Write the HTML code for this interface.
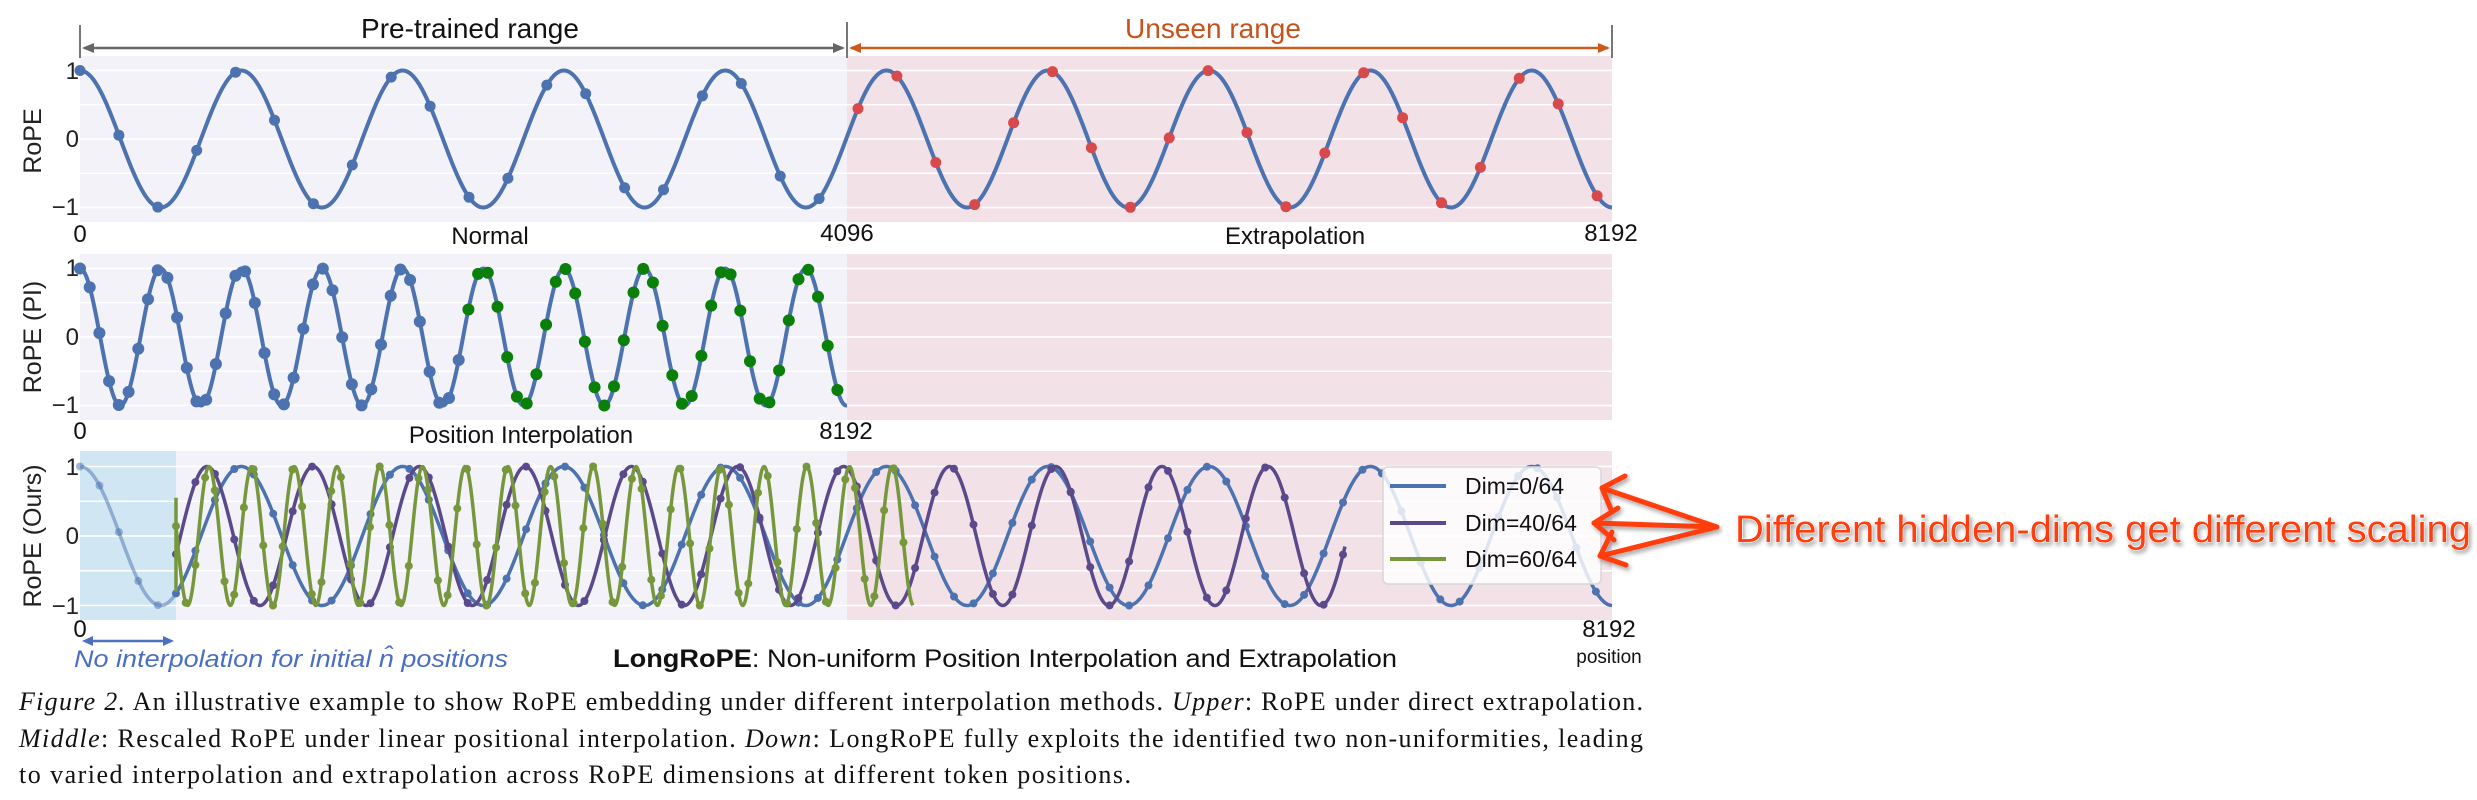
<!DOCTYPE html>
<html><head><meta charset="utf-8"><style>
html,body{margin:0;padding:0;background:#fff;}
svg{display:block;}
</style></head><body>
<svg id="s" xmlns="http://www.w3.org/2000/svg" width="2477" height="800" viewBox="0 0 2477 800" font-family="Liberation Sans, Arial, sans-serif">
<defs>
<filter id="glow" x="-5%" y="-30%" width="110%" height="160%">
<feGaussianBlur in="SourceAlpha" stdDeviation="2"/><feOffset dx="2" dy="3"/><feComponentTransfer><feFuncA type="linear" slope="0.35"/></feComponentTransfer><feMerge><feMergeNode/><feMergeNode in="SourceGraphic"/></feMerge>
</filter>
</defs>
<rect x="80" y="56" width="767" height="166" fill="#f2f2f8"/>
<rect x="847" y="56" width="765" height="166" fill="#f2e2e8"/>
<rect x="80" y="254" width="767" height="166" fill="#f2f2f8"/>
<rect x="847" y="254" width="765" height="166" fill="#f2e2e8"/>
<rect x="80" y="451" width="96" height="169" fill="#d0e7f3"/>
<rect x="176" y="451" width="671" height="169" fill="#f2f2f8"/>
<rect x="847" y="451" width="765" height="169" fill="#f2e2e8"/>
<g id="grid" stroke="#ffffff" stroke-width="1.6"></g>
<g id="curves"></g>

<g stroke="#777" stroke-width="2">
<line x1="80" y1="25" x2="80" y2="58"/><line x1="847" y1="22" x2="847" y2="58"/><line x1="1612" y1="25" x2="1612" y2="58"/>
</g>
<line x1="84" y1="48" x2="843" y2="48" stroke="#666" stroke-width="2.5"/>
<path d="M82,48 l12,-5 l0,10 z M845,48 l-12,-5 l0,10 z" fill="#666"/>
<line x1="851" y1="48" x2="1608" y2="48" stroke="#cc5a1c" stroke-width="2.5"/>
<path d="M849,48 l12,-5 l0,10 z M1610,48 l-12,-5 l0,10 z" fill="#cc5a1c"/>
<text x="470" y="38" font-size="28" text-anchor="middle" fill="#111">Pre-trained range</text>
<text x="1213" y="38" font-size="28" text-anchor="middle" fill="#c8521a">Unseen range</text>

<g font-size="24" fill="#222" text-anchor="end">
<text x="79" y="79">1</text><text x="79" y="147">0</text><text x="79" y="215">−1</text>
<text x="79" y="276">1</text><text x="79" y="345">0</text><text x="79" y="413">−1</text>
<text x="79" y="475">1</text><text x="79" y="544">0</text><text x="79" y="614">−1</text>
</g>
<g font-size="25" fill="#222" text-anchor="middle">
<text transform="translate(41,141) rotate(-90)">RoPE</text>
<text transform="translate(41,337) rotate(-90)">RoPE (PI)</text>
<text transform="translate(41,536) rotate(-90)">RoPE (Ours)</text>
</g>
<g font-size="24" fill="#111" text-anchor="middle">
<text x="80" y="242">0</text>
<text x="847" y="241">4096</text>
<text x="1611" y="241">8192</text>
<text x="490" y="244">Normal</text>
<text x="1295" y="244">Extrapolation</text>
<text x="80" y="439">0</text>
<text x="846" y="439">8192</text>
<text x="521" y="443">Position Interpolation</text>
<text x="80" y="637">0</text>
<text x="1609" y="637">8192</text>
<text x="1609" y="663" font-size="19">position</text>
</g>
<text x="1005" y="667" font-size="25" text-anchor="middle" fill="#111" textLength="784" lengthAdjust="spacingAndGlyphs"><tspan font-weight="bold">LongRoPE</tspan>: Non-uniform Position Interpolation and Extrapolation</text>

<line x1="86" y1="641" x2="170" y2="641" stroke="#4a72c0" stroke-width="2.5"/>
<path d="M82,641 l11,-5 l0,10 z M174,641 l-11,-5 l0,10 z" fill="#4a72c0"/>
<text x="74" y="667" font-size="24" font-style="italic" fill="#4a6fc0" textLength="434" lengthAdjust="spacingAndGlyphs">No interpolation for initial n̂ positions</text>

<rect x="1383" y="467" width="218" height="117" rx="5" fill="#ffffff" fill-opacity="0.82" stroke="#d8d8d8" stroke-width="1.5"/>
<g stroke-width="4">
<line x1="1390" y1="486" x2="1446" y2="486" stroke="#4c72b0"/>
<line x1="1390" y1="523" x2="1446" y2="523" stroke="#5b4a8b"/>
<line x1="1390" y1="559" x2="1446" y2="559" stroke="#77973c"/>
</g>
<g font-size="23" fill="#111">
<text x="1465" y="494">Dim=0/64</text>
<text x="1465" y="531">Dim=40/64</text>
<text x="1465" y="567">Dim=60/64</text>
</g>

<g stroke="#ff3d0a" stroke-width="5" fill="none" stroke-linecap="round" stroke-linejoin="round" filter="url(#glow)">
<path d="M1717,527 L1602,488 M1717,527 L1594,523 M1717,527 L1600,556"/>
<path d="M1625,476 L1602,488 L1612,512"/>
<path d="M1618,508 L1594,523 L1614,540"/>
<path d="M1612,532 L1600,556 L1626,565"/>
</g>
<text x="1735" y="542" font-size="38" fill="#ff3d0a" stroke="#ffffff" stroke-width="1" paint-order="stroke" filter="url(#glow)" textLength="736" lengthAdjust="spacingAndGlyphs">Different hidden-dims get different scaling</text>

<g font-family="Liberation Serif, Times New Roman, serif" font-size="26" fill="#111">
<text x="19" y="710" textLength="1624" lengthAdjust="spacing"><tspan font-style="italic">Figure 2.</tspan> An illustrative example to show RoPE embedding under different interpolation methods. <tspan font-style="italic">Upper</tspan>: RoPE under direct extrapolation.</text>
<text x="19" y="747" textLength="1624" lengthAdjust="spacing"><tspan font-style="italic">Middle</tspan>: Rescaled RoPE under linear positional interpolation. <tspan font-style="italic">Down</tspan>: LongRoPE fully exploits the identified two non-uniformities, leading</text>
<text x="19" y="783" textLength="1112" lengthAdjust="spacing">to varied interpolation and extrapolation across RoPE dimensions at different token positions.</text>
</g>
</svg>
<script>
(function(){
var NS="http://www.w3.org/2000/svg";
var g=document.getElementById('grid'), c=document.getElementById('curves');
function el(t,a,p){var e=document.createElementNS(NS,t);for(var k in a)e.setAttribute(k,a[k]);(p||c).appendChild(e);return e;}
var panels=[[139,68.5,80,1612],[337,68.5,80,1612],[536,69.5,80,1612]];
panels.forEach(function(p){[-1,-0.5,0,0.5,1].forEach(function(v){var y=p[0]-p[1]*v;el('line',{x1:p[2],x2:p[3],y1:y,y2:y},g);});});
function path(x0,x1,f,y0,a,col,w,op){var d='';for(var x=x0;x<=x1;x+=1){d+=(x==x0?'M':'L')+x.toFixed(1)+','+(y0-a*f(x)).toFixed(1);}
 el('path',{d:d,fill:'none',stroke:col,'stroke-width':w,'stroke-opacity':op||1,'stroke-linejoin':'round'});}
function dots(x0,x1,step,f,y0,a,colf,r,op){for(var x=x0;x<=x1+0.01;x+=step){el('circle',{cx:x.toFixed(1),cy:(y0-a*f(x)).toFixed(1),r:r,fill:colf(x),'fill-opacity':op||1});}}
var TW=2*Math.PI;
var f1=function(x){return Math.cos(TW*(x-80)/161.3);};
var f2=function(x){return Math.cos(TW*(x-80)/80.65);};
var fp=function(x){return Math.cos(TW*(x-207)/106.1);};
var fg=function(x){return Math.cos(TW*(x-209)/42.7);};
var B='#4c72b0';
path(80,1612,f1,139,68.5,B,4);
dots(80,1600,38.9,f1,139,68.5,function(x){return x<846?B:'#d64a4b';},5.5);
path(80,847,f2,337,68.5,B,4);
dots(80,847,9.71,f2,337,68.5,function(x){return x<462?B:'#0a7f0a';},6);
path(80,176,f1,536,69.5,B,3.5,0.5);
dots(80,176,19.45,f1,536,69.5,function(){return B;},4,0.5);
path(176,1612,f1,536,69.5,B,3.5);
dots(176,1612,19.45,f1,536,69.5,function(){return B;},4);
path(176,1345,fp,536,69.5,'#5b4a8b',3.5);
dots(176,1345,19.45,fp,536,69.5,function(){return '#5b4a8b';},4);
el('line',{x1:176,x2:176,y1:536+69.5*0.8,y2:536-69.5*0.55,stroke:'#77973c','stroke-width':3.5});
path(176,913,fg,536,69.5,'#77973c',3.5);
dots(176,913,9.7,fg,536,69.5,function(){return '#77973c';},4);
})();
</script>
</body></html>
